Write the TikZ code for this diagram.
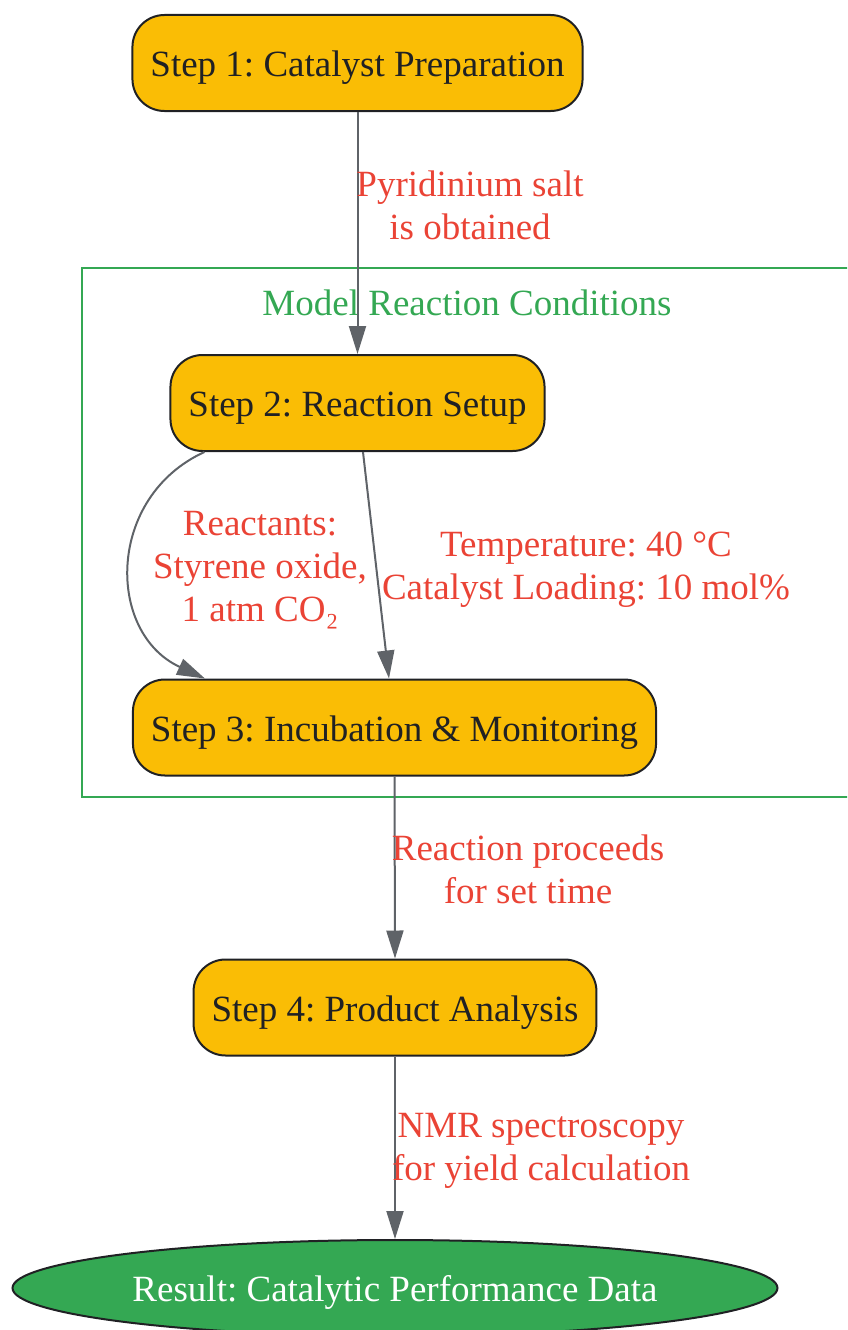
\documentclass[tikz,border=0pt]{standalone}
\usepackage{fontspec}
\setmainfont{Liberation Serif}
\usetikzlibrary{arrows.meta,shapes.geometric}
\frenchspacing

\definecolor{stepfill}{HTML}{FABD05}
\definecolor{darkline}{HTML}{202124}
\definecolor{flowgray}{HTML}{5F6368}
\definecolor{labelred}{HTML}{EA4335}
\definecolor{groupgreen}{HTML}{34A853}

\tikzset{
  bigfont/.style={font=\fontsize{37}{43}\selectfont},
  stepbox/.style={draw=darkline, line width=2pt, fill=stepfill, rounded corners=32pt,
    minimum height=96pt, inner xsep=18pt, text height=30pt, text depth=3pt,
    text=darkline, bigfont},
  resultbox/.style={ellipse, draw=darkline, line width=2pt, fill=groupgreen, text=white,
    minimum width=765pt, minimum height=96pt, text height=30pt, text depth=3pt, bigfont},
  flow/.style={draw=flowgray, line width=2pt, -{Triangle[length=28pt,width=17pt]}},
  lbl/.style={text=labelred, align=center, bigfont}
}

\begin{document}
\begin{tikzpicture}[x=1pt,y=-1pt]
    \useasboundingbox (0,0) rectangle (847,1330);
    \clip (0,0) rectangle (847,1330);

    % group frame
    \draw[draw=groupgreen, line width=2pt] (82,268) rectangle (880,797);
    \node[text=groupgreen, bigfont] (grouptitle) at (467,303) {Model Reaction Conditions};

    \node[stepbox] (s1) at (357.5,63) {Step 1: Catalyst Preparation};
    \node[stepbox] (s2) at (357.5,403) {Step 2: Reaction Setup};
    \node[stepbox] (s3) at (394.5,727.5) {Step 3: Incubation \& Monitoring};
    \node[stepbox] (s4) at (395,1007.5) {Step 4: Product Analysis};
    \node[resultbox] (res) at (395,1288) {Result: Catalytic Performance Data};

    \draw[flow] (s1.south) -- (s2.north);
    \draw[flow] ([xshift=35pt]s2.south west) .. controls (106,497) and (106,633) .. ([xshift=73pt]s3.north west);
    \draw[flow] ([xshift=5.5pt]s2.south) -- ([xshift=-5.5pt]s3.north);
    \draw[flow] (s3.south) -- (s4.north);
    \draw[flow] (s4.south) -- (res.north);

    \node[lbl] (l1) at (470,205) {Pyridinium salt\\is obtained};
    \node[lbl] (l2) at (260,570) {Reactants:\\Styrene oxide,\\1 atm CO₂};
    \node[lbl] (l3) at (586,570) {Temperature: 40 °C\\Catalyst Loading: 10 mol\%};
    \node[lbl] (l4) at (528,869) {Reaction proceeds\\for set time};
    \node[lbl] (l5) at (541,1151) {NMR spectroscopy\\for yield calculation};
\end{tikzpicture}
\end{document}
